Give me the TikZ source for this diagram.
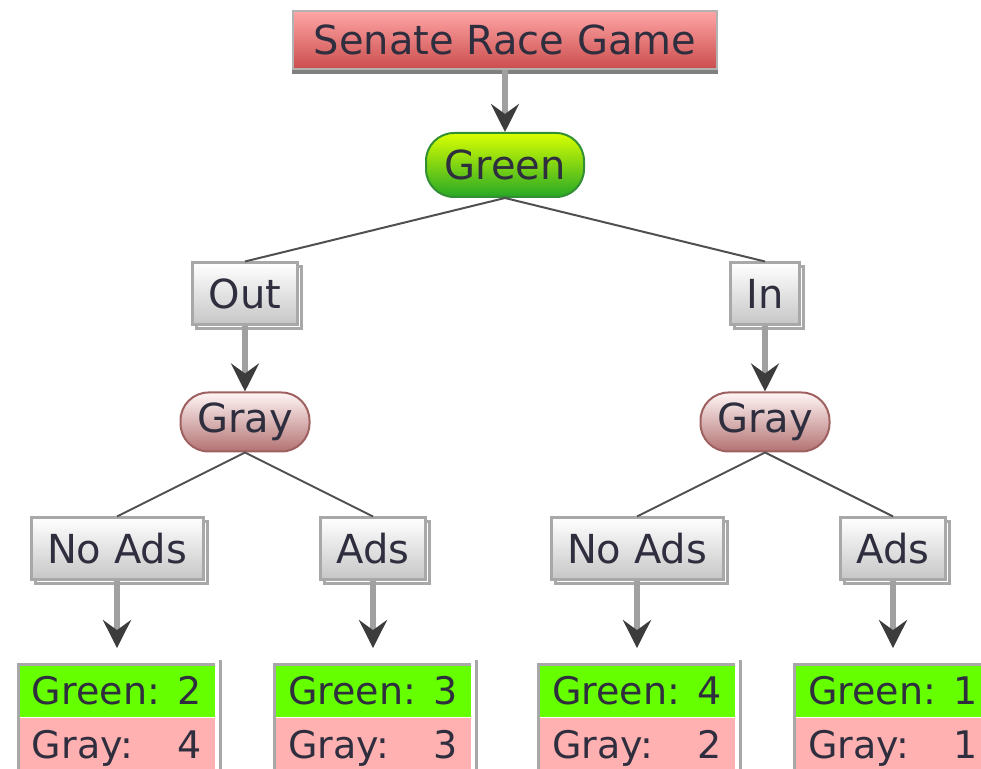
\documentclass[tikz,border=0pt]{standalone}
\usepackage{fontspec}
\setmainfont{DejaVu Sans}
\usepackage{xcolor}
\usetikzlibrary{shapes,arrows.meta,shadows,positioning}

\definecolor{inktext}{HTML}{2E2E3E}
\definecolor{framegray}{HTML}{A8A8A8}
\definecolor{shaftgray}{HTML}{A0A0A0}
\definecolor{tipgray}{HTML}{3C3C3C}
\definecolor{tiegray}{HTML}{505050}
\definecolor{leafgreen}{HTML}{66FF00}
\definecolor{leafpink}{HTML}{FFB0B0}

\tikzset{
  gamebox/.style={draw=gray!60, line width=1pt, top color=red!35!white, bottom color=red!55!gray!90,
    minimum width=212pt, minimum height=29pt, text=inktext,
    copy shadow={shadow xshift=0pt, shadow yshift=-2pt, fill=gray, draw=gray}},
  branch/.style={draw=framegray, line width=1.5pt, top color=white, bottom color=gray!45,
    minimum height=31pt, inner xsep=8pt, text=inktext,
    copy shadow={shadow xshift=2pt, shadow yshift=-2pt, fill=white, draw=framegray, line width=1.5pt}},
  player/.style={rounded corners=14pt, line width=1pt, text=inktext},
  greenpill/.style={player, draw=green!45!black!80, top color=lime!60!yellow, bottom color=green!60!black!85,
    minimum width=79pt, minimum height=32pt},
  graypill/.style={player, draw=red!25!gray, top color=red!4!white, bottom color=red!30!gray!85,
    minimum width=64.5pt, minimum height=29.5pt},
  payrow/.style={font=\fontsize{19}{23}\selectfont, text width=85pt, align=left, inner xsep=6.5pt, inner ysep=2pt,
    text height=18pt, text depth=4.5pt, text=inktext},
  greenrow/.style={payrow, fill=leafgreen},
  pinkrow/.style={payrow, fill=leafpink},
  leafedge/.style={draw=framegray, line width=1.5pt},
  tieline/.style={draw=tiegray, line width=1pt},
  arrowline/.style={draw=shaftgray, line width=3pt,
    -{Stealth[length=14pt, width=14pt, inset=5pt, color=tipgray]}}
}

\begin{document}
\begin{tikzpicture}[x=0.5pt, y=-0.5pt,
    every node/.style={font=\fontsize{20}{24}\selectfont},
    edge from parent path={(\tikzparentnode.south) -- (\tikzchildnode.north)},
    level 1/.style={level distance=62.5pt, edge from parent/.style={arrowline}},
    level 2/.style={level distance=64.5pt, sibling distance=260pt, edge from parent/.style={tieline}},
    level 3/.style={level distance=64pt, edge from parent/.style={arrowline}},
    level 4/.style={level distance=63.5pt, sibling distance=128pt, edge from parent/.style={tieline}},
    level 5/.style={level distance=71pt, edge from parent/.style={arrowline, shorten >=8pt}}]
  \useasboundingbox (0,0) rectangle (981,769);
  \node[gamebox] (game) at (505,40) {Senate Race Game}
  child {node[greenpill] (green) {Green}
    child {node[branch] (out) {Out}
      child {node[graypill] (grayOut) {Gray}
        child {node[branch] (outNoAds) {No Ads}
          child {node[greenrow] (leafA) {Green:\hfill 2}}
        }
        child {node[branch] (outAds) {Ads}
          child {node[greenrow] (leafB) {Green:\hfill 3}}
        }
      }
    }
    child {node[branch] (in) {In}
      child {node[graypill] (grayIn) {Gray}
        child {node[branch] (inNoAds) {No Ads}
          child {node[greenrow] (leafC) {Green:\hfill 4}}
        }
        child {node[branch] (inAds) {Ads}
          child {node[greenrow] (leafD) {Green:\hfill 1}}
        }
      }
    }
  };
  % gray rows under the green ones
  \node[pinkrow, below=0pt of leafA] (restA) {Gray:\hfill 4};
  \node[pinkrow, below=0pt of leafB] (restB) {Gray:\hfill 3};
  \node[pinkrow, below=0pt of leafC] (restC) {Gray:\hfill 2};
  \node[pinkrow, below=0pt of leafD] (restD) {Gray:\hfill 1};
  \foreach \leaf in {A,B,C,D} {
    \draw[leafedge] (rest\leaf.south west) |- (leaf\leaf.north east);
    \draw[leafedge] ([xshift=2.5pt,yshift=2pt]leaf\leaf.north east) -- ([xshift=2.5pt]rest\leaf.south east);
  }
\end{tikzpicture}
\end{document}
